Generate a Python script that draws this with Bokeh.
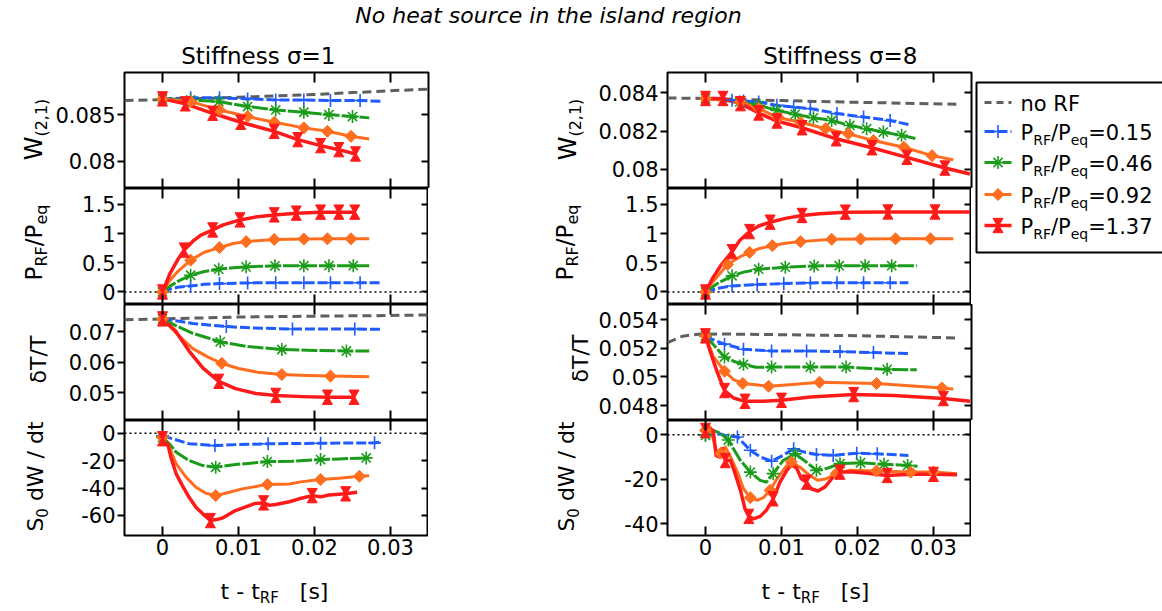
import math
from bokeh.plotting import figure
from bokeh.models import Range1d, LinearAxis, FixedTicker, Span, Label, CustomJSTickFormatter
from bokeh.layouts import row, column
from bokeh.embed import file_html
from bokeh.resources import INLINE

FONT = "DejaVu Sans"

# ----------------------------------------------------------------- data
XTICKS = [0, 0.01, 0.02, 0.03]
XTICK_LABELS = ["0", "0.01", "0.02", "0.03"]
LEGEND_VALUES = ["0.15", "0.46", "0.92", "1.37"]
COLUMN_TITLES = ["Stiffness \u03c3=1", "Stiffness \u03c3=8"]

# ---- Stiffness sigma = 1 ----
s1_w_nr_t = [-0.005, 0.0, 0.005, 0.01, 0.015, 0.02, 0.025, 0.03, 0.035]
s1_w_nr_v = [0.08650, 0.08660, 0.08672, 0.08685, 0.08700, 0.08715, 0.08735, 0.08755, 0.08772]
s1_w_b_t = [0.0, 0.0037, 0.0075, 0.0112, 0.0149, 0.0186, 0.0221, 0.026, 0.0287]
s1_w_b_v = [0.08668, 0.08679, 0.08679, 0.08668, 0.08657, 0.08657, 0.0865, 0.0865, 0.08643]
s1_w_b_m = [0, 1, 2, 3, 4, 5, 6, 7]
s1_w_g_t = [0.0, 0.0037, 0.0074, 0.0112, 0.0149, 0.0186, 0.0219, 0.025, 0.0272]
s1_w_g_v = [0.08668, 0.08657, 0.08639, 0.08586, 0.0855, 0.08525, 0.0850, 0.08479, 0.08465]
s1_w_g_m = [0, 1, 2, 3, 4, 5, 6, 7]
s1_w_o_t = [0.0, 0.0037, 0.0075, 0.0112, 0.0147, 0.0186, 0.0217, 0.0248, 0.0272]
s1_w_o_v = [0.08668, 0.08639, 0.0855, 0.08479, 0.08418, 0.08358, 0.08321, 0.08268, 0.0824]
s1_w_o_m = [0, 1, 2, 3, 4, 5, 6, 7]
s1_w_r_t = [0.0, 0.003, 0.0066, 0.0103, 0.0147, 0.0178, 0.0208, 0.0232, 0.0254]
s1_w_r_v = [0.08668, 0.08615, 0.08514, 0.08418, 0.08321, 0.08232, 0.08168, 0.08125, 0.08079]
s1_w_r_m = [0, 1, 2, 3, 4, 5, 6, 7, 8]

s1_p_b_t = [0.0, 0.001, 0.002, 0.0037, 0.0055, 0.0075, 0.0112, 0.0149, 0.0186, 0.0221, 0.026, 0.0287]
s1_p_b_v = [0.0, 0.05, 0.08, 0.103, 0.13, 0.143, 0.155, 0.157, 0.157, 0.157, 0.157, 0.157]
s1_p_b_m = [0, 3, 5, 6, 7, 8, 9, 10]
s1_p_g_t = [0.0, 0.001, 0.002, 0.0037, 0.0055, 0.0074, 0.0093, 0.011, 0.0148, 0.0186, 0.0219, 0.0251, 0.0272]
s1_p_g_v = [0.0, 0.1, 0.18, 0.286, 0.35, 0.39, 0.415, 0.43, 0.448, 0.45, 0.45, 0.45, 0.45]
s1_p_g_m = [0, 3, 5, 7, 8, 9, 10, 11]
s1_p_o_t = [0.0, 0.001, 0.002, 0.0037, 0.0055, 0.0075, 0.0093, 0.011, 0.0147, 0.0186, 0.0217, 0.0248, 0.0272]
s1_p_o_v = [0.0, 0.2, 0.35, 0.545, 0.68, 0.76, 0.83, 0.862, 0.90, 0.907, 0.91, 0.91, 0.91]
s1_p_o_m = [0, 3, 5, 7, 8, 9, 10, 11]
s1_p_r_t = [0.0, 0.001, 0.002, 0.00285, 0.004, 0.005, 0.0066, 0.008, 0.0102, 0.0125, 0.0147, 0.0176, 0.0208, 0.0232, 0.0253]
s1_p_r_v = [0.0, 0.32, 0.55, 0.717, 0.87, 0.97, 1.062, 1.15, 1.234, 1.29, 1.32, 1.35, 1.367, 1.367, 1.367]
s1_p_r_m = [0, 3, 6, 8, 10, 11, 12, 13, 14]

s1_dt_nr_t = [-0.005, 0.0, 0.005, 0.01, 0.02, 0.03, 0.035]
s1_dt_nr_v = [0.0739, 0.0742, 0.0745, 0.0748, 0.0751, 0.0753, 0.0755]
s1_dt_b_t = [0.0, 0.002, 0.004, 0.0084, 0.012, 0.0171, 0.0253, 0.0287]
s1_dt_b_v = [0.0742, 0.0735, 0.0727, 0.0717, 0.0712, 0.0709, 0.0709, 0.0708]
s1_dt_b_m = [0, 3, 5, 6]
s1_dt_g_t = [0.0, 0.002, 0.004, 0.0076, 0.011, 0.0157, 0.02, 0.0242, 0.0272]
s1_dt_g_v = [0.0742, 0.0717, 0.0695, 0.0667, 0.0652, 0.0642, 0.0639, 0.0637, 0.0637]
s1_dt_g_m = [0, 3, 5, 7]
s1_dt_o_t = [0.0, 0.002, 0.004, 0.006, 0.0078, 0.010, 0.0125, 0.0157, 0.019, 0.0221, 0.0272]
s1_dt_o_v = [0.0742, 0.069, 0.0645, 0.0617, 0.0597, 0.058, 0.0568, 0.056, 0.0557, 0.0555, 0.0553]
s1_dt_o_m = [0, 4, 7, 9]
s1_dt_r_t = [0.0, 0.0017, 0.0035, 0.0053, 0.0074, 0.0096, 0.0123, 0.0149, 0.0184, 0.0217, 0.0252]
s1_dt_r_v = [0.0742, 0.0703, 0.0637, 0.0582, 0.0538, 0.0514, 0.0498, 0.0492, 0.0488, 0.0486, 0.0486]
s1_dt_r_m = [0, 4, 7, 9, 10]

s1_dw_b_t = [0.0, 0.0013, 0.0035, 0.0069, 0.0096, 0.0139, 0.0208, 0.0279, 0.0286]
s1_dw_b_v = [-1.9, -4.0, -7.7, -9.0, -8.3, -7.7, -7.3, -7.0, -6.6]
s1_dw_b_m = [0, 3, 5, 6, 7]
s1_dw_g_t = [0.0, 0.0009, 0.0018, 0.0035, 0.0053, 0.007, 0.0096, 0.0138, 0.0171, 0.0208, 0.0232, 0.0268, 0.0272]
s1_dw_g_v = [-3.0, -7.7, -13.9, -19.9, -23.6, -24.8, -22.8, -20.7, -20.4, -19.2, -18.7, -18.0, -18.0]
s1_dw_g_m = [0, 5, 7, 9, 11]
s1_dw_o_t = [0.0, 0.0009, 0.0018, 0.0031, 0.0044, 0.0057, 0.007, 0.0088, 0.0105, 0.0138, 0.0167, 0.0184, 0.0208, 0.0232, 0.0259, 0.0272]
s1_dw_o_v = [-3.0, -10.2, -22.3, -32.0, -39.4, -43.8, -45.5, -43.0, -40.6, -37.4, -37.0, -35.3, -33.8, -32.8, -31.4, -31.0]
s1_dw_o_m = [0, 6, 9, 12, 14]
s1_dw_r_t = [0.0, 0.0007, 0.0011, 0.0018, 0.0026, 0.0035, 0.0044, 0.0053, 0.0063, 0.0071, 0.0079, 0.0096, 0.0114,
             0.0122, 0.0133, 0.0141, 0.0149, 0.0167, 0.0184, 0.0197, 0.0208, 0.0219, 0.0241, 0.0256]
s1_dw_r_v = [-4.0, -7.7, -17.5, -29.6, -38.0, -46.7, -54.0, -58.8, -63.7, -63.0, -61.8, -56.4, -52.8,
             -51.2, -50.8, -52.6, -52.0, -50.0, -47.2, -45.5, -46.4, -45.0, -44.2, -43.0]
s1_dw_r_m = [0, 8, 14, 19, 22]

# ---- Stiffness sigma = 8 ----
s8_w_nr_t = [-0.005, 0.0, 0.01, 0.02, 0.033]
s8_w_nr_v = [0.08374, 0.08371, 0.0836, 0.08351, 0.08341]
s8_w_b_t = [0.0, 0.0035, 0.005, 0.007, 0.0094, 0.0116, 0.0138, 0.0173, 0.0208, 0.0243, 0.0267]
s8_w_b_v = [0.08371, 0.08362, 0.08358, 0.08353, 0.08335, 0.08326, 0.08318, 0.08292, 0.08274, 0.08256, 0.08235]
s8_w_b_m = [0, 1, 2, 3, 4, 5, 6, 7, 8, 9]
s8_w_g_t = [0.0, 0.0045, 0.007, 0.0094, 0.0118, 0.0142, 0.0166, 0.019, 0.0212, 0.0234, 0.0258, 0.0278]
s8_w_g_v = [0.08371, 0.08353, 0.08335, 0.08309, 0.08288, 0.0827, 0.08256, 0.0823, 0.08213, 0.08195, 0.08178, 0.0816]
s8_w_g_m = [0, 1, 2, 3, 4, 5, 6, 7, 8, 9, 10]
s8_w_o_t = [0.0, 0.0046, 0.007, 0.0096, 0.0125, 0.0158, 0.0188, 0.0221, 0.0261, 0.0298, 0.0326]
s8_w_o_v = [0.08371, 0.08353, 0.08318, 0.0827, 0.08247, 0.08213, 0.08186, 0.08151, 0.08116, 0.08072, 0.0805]
s8_w_o_m = [0, 1, 2, 3, 4, 5, 6, 7, 8, 9]
s8_w_r_t = [0.0, 0.0023, 0.0046, 0.007, 0.0094, 0.0127, 0.0172, 0.0219, 0.0265, 0.0315, 0.0348]
s8_w_r_v = [0.08371, 0.08371, 0.08344, 0.08295, 0.08253, 0.08218, 0.0816, 0.08113, 0.08063, 0.08007, 0.07976]
s8_w_r_m = [0, 1, 2, 3, 4, 5, 6, 7, 8, 9]

s8_p_b_t = [0.0, 0.0015, 0.0035, 0.0068, 0.0103, 0.0138, 0.0173, 0.0208, 0.0243, 0.0267]
s8_p_b_v = [0.0, 0.06, 0.103, 0.126, 0.143, 0.155, 0.157, 0.157, 0.157, 0.157]
s8_p_b_m = [0, 2, 3, 4, 5, 6, 7, 8]
s8_p_g_t = [0.0, 0.0015, 0.0035, 0.005, 0.007, 0.0105, 0.0143, 0.0176, 0.021, 0.0245, 0.0278]
s8_p_g_v = [0.0, 0.14, 0.276, 0.34, 0.39, 0.424, 0.445, 0.45, 0.45, 0.45, 0.45]
s8_p_g_m = [0, 2, 4, 5, 6, 7, 8, 9]
s8_p_o_t = [0.0, 0.001, 0.0029, 0.0045, 0.0058, 0.007, 0.0088, 0.0105, 0.0125, 0.0166, 0.0204, 0.025, 0.0296, 0.0326]
s8_p_o_v = [0.0, 0.18, 0.47, 0.6, 0.678, 0.74, 0.793, 0.835, 0.862, 0.902, 0.907, 0.91, 0.91, 0.91]
s8_p_o_m = [0, 2, 4, 6, 8, 9, 10, 11, 12]
s8_p_r_t = [0.0, 0.001, 0.002, 0.0035, 0.0045, 0.0058, 0.007, 0.0085, 0.0105, 0.0127, 0.015, 0.0184, 0.024, 0.0302, 0.0348]
s8_p_r_v = [0.0, 0.25, 0.45, 0.69, 0.88, 1.034, 1.13, 1.195, 1.26, 1.31, 1.34, 1.367, 1.37, 1.37, 1.37]
s8_p_r_m = [0, 3, 5, 7, 9, 11, 12, 13]

s8_dt_nr_t = [-0.005, -0.003, -0.001, 0.002, 0.01, 0.02, 0.0335]
s8_dt_nr_v = [0.0524, 0.05285, 0.05298, 0.05300, 0.05295, 0.05288, 0.05272]
s8_dt_b_t = [0.0, 0.001, 0.0025, 0.005, 0.0087, 0.0133, 0.0177, 0.0221, 0.0267]
s8_dt_b_v = [0.05287, 0.0526, 0.05229, 0.05194, 0.05182, 0.05182, 0.05177, 0.0517, 0.05163]
s8_dt_b_m = [0, 2, 3, 4, 5, 6, 7]
s8_dt_g_t = [0.0, 0.0025, 0.0037, 0.005, 0.0066, 0.0087, 0.0138, 0.0185, 0.0239, 0.0278]
s8_dt_g_v = [0.05287, 0.05139, 0.0511, 0.05088, 0.05068, 0.05069, 0.05069, 0.05069, 0.05053, 0.0505]
s8_dt_g_m = [0, 1, 3, 5, 6, 7, 8]
s8_dt_o_t = [0.0, 0.001, 0.0025, 0.0037, 0.0049, 0.0066, 0.0083, 0.0115, 0.015, 0.0225, 0.0311, 0.0326]
s8_dt_o_v = [0.05287, 0.05146, 0.0504, 0.04982, 0.04955, 0.04946, 0.04935, 0.04947, 0.04963, 0.04954, 0.04923, 0.04916]
s8_dt_o_m = [0, 2, 4, 6, 8, 9, 10]
s8_dt_r_t = [0.0, 0.0006, 0.0015, 0.0025, 0.0037, 0.0052, 0.0076, 0.01, 0.0138, 0.0195, 0.0248, 0.0313, 0.0348]
s8_dt_r_v = [0.05287, 0.0518, 0.0504, 0.04905, 0.04853, 0.0483, 0.0483, 0.04837, 0.0486, 0.04877, 0.0487, 0.04849, 0.0483]
s8_dt_r_m = [0, 3, 5, 7, 9, 11]

s8_dw_b_t = [0.0, 0.001, 0.0026, 0.0042, 0.0059, 0.0072, 0.0087, 0.0102, 0.0116, 0.013, 0.0146, 0.0168, 0.0199, 0.0226, 0.0267]
s8_dw_b_v = [0.0, 1.3, -0.3, -1.0, -7.0, -10.0, -11.9, -9.3, -6.3, -7.8, -8.9, -9.3, -8.3, -8.6, -9.3]
s8_dw_b_m = [0, 3, 4, 6, 8, 10, 11, 12, 13]
s8_dw_g_t = [0.0, 0.001, 0.002, 0.003, 0.0046, 0.0059, 0.0072, 0.008, 0.0089, 0.0102, 0.0118, 0.013, 0.0146,
             0.0159, 0.0177, 0.0204, 0.0235, 0.0266, 0.0279]
s8_dw_g_v = [-0.3, 2.0, 0.6, -2.4, -11.6, -16.8, -20.5, -21.3, -17.5, -11.6, -8.6, -11.6, -16.0,
             -15.2, -13.0, -12.6, -13.3, -13.8, -14.2]
s8_dw_g_m = [0, 3, 5, 8, 10, 12, 14, 15, 16, 17]
s8_dw_o_t = [0.0, 0.0006, 0.0014, 0.002, 0.0026, 0.0033, 0.0042, 0.005, 0.0059, 0.0068, 0.0076, 0.0085, 0.0094,
             0.0107, 0.0113, 0.0124, 0.0137, 0.0148, 0.0159, 0.0172, 0.019, 0.0225, 0.027, 0.03, 0.0331]
s8_dw_o_v = [2.0, 3.5, -7.0, -8.3, -5.5, -10.0, -16.8, -24.3, -28.3, -29.5, -28.3, -25.0, -19.8,
             -13.8, -12.3, -14.5, -18.3, -20.5, -19.8, -17.5, -16.0, -16.3, -16.8, -16.8, -17.5]
s8_dw_o_m = [0, 3, 8, 11, 14, 19, 21, 22, 23]
s8_dw_r_t = [0.0, 0.0006, 0.001, 0.0014, 0.0018, 0.0022, 0.0026, 0.0033, 0.0039, 0.0046, 0.0052, 0.0057, 0.0063,
             0.0072, 0.008, 0.0089, 0.0098, 0.0107, 0.0113, 0.012, 0.0126, 0.0133, 0.0139, 0.0148, 0.0157,
             0.0168, 0.0177, 0.0195, 0.0213, 0.0239, 0.027, 0.03, 0.0331]
s8_dw_r_v = [1.9, 2.5, 2.0, -9.3, -10.0, -6.3, -11.6, -11.6, -17.5, -25.0, -33.3, -36.7, -37.8,
             -36.7, -34.0, -28.8, -21.3, -16.0, -13.5, -15.0, -19.8, -21.3, -24.3, -25.3, -23.5,
             -19.0, -16.8, -16.8, -17.3, -18.3, -17.8, -17.8, -18.0]
s8_dw_r_m = [0, 6, 11, 15, 21, 26, 29, 31]

# y-axis ranges / ticks per panel
s1_yr = [(0.0771, 0.0895), (-0.215, 1.772), (0.041, 0.0789), (-74.6, 9.3)]
s8_yr = [(0.079, 0.08507), (-0.215, 1.772), (0.04696, 0.05506), (-45.3, 6.4)]
s1_yticks = [[0.08, 0.085], [0, 0.5, 1, 1.5], [0.05, 0.06, 0.07], [-60, -40, -20, 0]]
s1_ylabels = [["0.08", "0.085"], ["0", "0.5", "1", "1.5"], ["0.05", "0.06", "0.07"], ["-60", "-40", "-20", "0"]]
s8_yticks = [[0.08, 0.082, 0.084], [0, 0.5, 1, 1.5], [0.048, 0.05, 0.052, 0.054], [-40, -20, 0]]
s8_ylabels = [["0.08", "0.082", "0.084"], ["0", "0.5", "1", "1.5"], ["0.048", "0.05", "0.052", "0.054"], ["-40", "-20", "0"]]

# ----------------------------------------------------------------- styles
STYLE = {
    "nr": dict(color="#5f5f5f", dash="9 5", width=3.0, marker=None),
    "b": dict(color="#1f5bff", dash="10 3", width=3.0, marker="cross"),
    "g": dict(color="#1a9c1a", dash="16 2", width=3.0, marker="asterisk"),
    "o": dict(color="#ff6d1f", dash="solid", width=3.0, marker="diamond"),
    "r": dict(color="#ff1a1a", dash="solid", width=3.5, marker="hourglass"),
}

W_EM = {' ': 0.318, '(': 0.390, ')': 0.390, ',': 0.318, '-': 0.361, '.': 0.318, '/': 0.337, '=': 0.838,
        '[': 0.390, ']': 0.390, 'F': 0.575, 'N': 0.748, 'P': 0.603, 'R': 0.695, 'S': 0.635, 'T': 0.611,
        'W': 0.989, 'a': 0.613, 'c': 0.550, 'd': 0.635, 'e': 0.615, 'f': 0.352, 'g': 0.635, 'h': 0.634,
        'i': 0.278, 'l': 0.278, 'n': 0.634, 'o': 0.612, 'q': 0.635, 'r': 0.411, 's': 0.521, 't': 0.392,
        'u': 0.634, '\u03b4': 0.612, '\u03c3': 0.634}
for _d in "0123456789":
    W_EM[_d] = 0.636
BASELINE_FIX = 0.28   # measured shift of Bokeh's alphabetic anchor, in em

# layout in page pixels (page origin = top-left of window)
TOTAL_W = 1160
TITLE_H = 28
TOP_B = 44
YLAB_X = [(0, 52), (428, 165)]
COL_X0 = [52, 593]
FRAME_X0 = [122, 663]
FRAME_W = 304
FRAME_H = [116, 116, 116, 115]
BOTTOM_B = 32
BODY_H = TOP_B + sum(FRAME_H) + BOTTOM_B
LEG_X0 = 969
XLAB_Y0 = TITLE_H + BODY_H
XLAB_H = 42
XR = (-0.005, 0.035)
TICK_FONT = "21px"
COL_TITLE_CENTER = [256, 836]


def tw(s, size):
    return sum(W_EM.get(ch, 0.6) for ch in s) * size


def seg_layout(segs, x, y, vertical=False, anchor="center"):
    widths = [tw(t, s) for t, s, _ in segs]
    total = sum(widths)
    pos = {"center": -total / 2, "left": 0.0, "right": -total}[anchor]
    out = []
    for (t, s, sh), w in zip(segs, widths):
        lead = len(t) - len(t.lstrip(" "))
        off = pos + lead * W_EM[" "] * s
        fix = BASELINE_FIX * s
        if vertical:
            px, py = x + sh - fix, y - off
        else:
            px, py = x + off, y + sh - fix
        out.append((t.strip(), s, px, py))
        pos += w
    return out


def canvas(ox, oy, w, h):
    c = figure(width=w, height=h, x_range=Range1d(ox, ox + w), y_range=Range1d(-(oy + h), -oy),
               min_border=0, title=None, toolbar_location=None, output_backend="svg",
               x_axis_location=None, y_axis_location=None)
    c.grid.visible = False
    c.outline_line_color = None
    c.background_fill_color = "white"
    c.border_fill_color = "white"
    return c


def canvas_text(c, segs, x, y, vertical=False, anchor="center", style="normal"):
    for txt, s, px, py in seg_layout(segs, x, y, vertical, anchor):
        c.add_layout(Label(x=px, y=-py, text=txt, angle=(math.pi / 2 if vertical else 0.0),
                           text_font=FONT, text_font_size=f"{s}px", text_font_style=style,
                           text_align="left", text_baseline="alphabetic", text_color="black"))


def label_formatter(ticks, labels):
    return CustomJSTickFormatter(args=dict(tv=list(ticks), tl=list(labels)), code="""
        for (let i = 0; i < tv.length; i++) { if (Math.abs(tv[i] - tick) < 1e-9) return tl[i]; }
        return "";""")


def blank_formatter():
    return CustomJSTickFormatter(code='return "";')


def style_axis(ax, tick_in, tick_out, show, standoff=2):
    ax.axis_line_color = None
    ax.major_tick_line_color = "black"
    ax.major_tick_line_width = 2
    ax.major_tick_in = tick_in
    ax.major_tick_out = tick_out
    ax.minor_tick_line_color = None
    ax.major_label_text_font = FONT
    ax.major_label_text_color = "black"
    if show:
        ax.major_label_text_font_size = TICK_FONT
        ax.major_label_standoff = standoff
    else:
        ax.major_label_text_font_size = "0px"
        ax.major_label_standoff = 0


def draw_markers(p, key, t, v, dv):
    st = STYLE[key]
    c = st["color"]
    m = st["marker"]
    if m == "cross":
        p.scatter(t, v, marker="cross", size=13, line_color=c, line_width=1.6)
    elif m == "asterisk":
        p.scatter(t, v, marker="asterisk", size=13, line_color=c, line_width=1.6)
    elif m == "diamond":
        p.scatter(t, v, marker="square", angle=math.pi / 4, size=8.5, fill_color=c, line_color=c)
    elif m == "hourglass":
        p.scatter(t, [a - dv for a in v], marker="triangle", size=10, fill_color=c, line_color=c, line_width=1)
        p.scatter(t, [a + dv for a in v], marker="inverted_triangle", size=10, fill_color=c, line_color=c,
                  line_width=1)


def make_panel(col, i, yr, yticks, ylabels, series, zero_line):
    fx0 = FRAME_X0[col]
    fh = FRAME_H[i]
    p = figure(frame_width=FRAME_W, frame_height=fh, x_range=Range1d(*XR), y_range=Range1d(*yr),
               min_border_left=fx0 - COL_X0[col], min_border_right=2,
               min_border_top=(TOP_B if i == 0 else 0), min_border_bottom=(BOTTOM_B if i == 3 else 0),
               title=(COLUMN_TITLES[col] if i == 0 else None), toolbar_location=None, output_backend="svg",
               x_axis_location=None, y_axis_location=None)
    if i == 0:
        text = COLUMN_TITLES[col]
        p.title.align = "left"
        p.title.offset = COL_TITLE_CENTER[col] - tw(text, 23) / 2 - fx0
        p.title.standoff = 7
        p.title.vertical_align = "bottom"
        p.title.text_font = FONT
        p.title.text_font_size = "23px"
        p.title.text_font_style = "normal"
        p.title.text_color = "black"
    p.grid.visible = False
    p.outline_line_color = "black"
    p.outline_line_width = 2
    p.outline_line_alpha = 1.0
    p.background_fill_color = "white"
    p.border_fill_color = "white"

    la = LinearAxis(ticker=FixedTicker(ticks=yticks), formatter=label_formatter(yticks, ylabels))
    style_axis(la, 0, 7, True)
    p.add_layout(la, "left")
    ra = LinearAxis(ticker=FixedTicker(ticks=yticks), formatter=blank_formatter())
    style_axis(ra, 7, 0, False)
    p.add_layout(ra, "right")
    ta = LinearAxis(ticker=FixedTicker(ticks=XTICKS), formatter=blank_formatter())
    style_axis(ta, 10, 0, False)
    p.add_layout(ta, "above")
    if i == 3:
        ba = LinearAxis(ticker=FixedTicker(ticks=XTICKS), formatter=label_formatter(XTICKS, XTICK_LABELS))
        style_axis(ba, 9, 0, True, standoff=3)
    else:
        ba = LinearAxis(ticker=FixedTicker(ticks=XTICKS), formatter=blank_formatter())
        style_axis(ba, 10, 0, False)
    p.add_layout(ba, "below")

    if zero_line:
        p.add_layout(Span(location=0, dimension="width", line_color="black", line_width=1.6,
                          line_dash="2 3", level="underlay"))

    dv = 4.3 * (yr[1] - yr[0]) / fh
    for key, t, v, mk in series:
        st = STYLE[key]
        p.line(t, v, line_color=st["color"], line_width=st["width"], line_dash=st["dash"],
               line_join="round")
    for key, t, v, mk in series:
        if mk is not None:
            draw_markers(p, key, [t[j] for j in mk], [v[j] for j in mk], dv)
    return p


# ----------------------------------------------------------------- panels
S1 = [
    [("nr", s1_w_nr_t, s1_w_nr_v, None), ("b", s1_w_b_t, s1_w_b_v, s1_w_b_m), ("g", s1_w_g_t, s1_w_g_v, s1_w_g_m),
     ("o", s1_w_o_t, s1_w_o_v, s1_w_o_m), ("r", s1_w_r_t, s1_w_r_v, s1_w_r_m)],
    [("b", s1_p_b_t, s1_p_b_v, s1_p_b_m), ("g", s1_p_g_t, s1_p_g_v, s1_p_g_m),
     ("o", s1_p_o_t, s1_p_o_v, s1_p_o_m), ("r", s1_p_r_t, s1_p_r_v, s1_p_r_m)],
    [("nr", s1_dt_nr_t, s1_dt_nr_v, None), ("b", s1_dt_b_t, s1_dt_b_v, s1_dt_b_m),
     ("g", s1_dt_g_t, s1_dt_g_v, s1_dt_g_m), ("o", s1_dt_o_t, s1_dt_o_v, s1_dt_o_m),
     ("r", s1_dt_r_t, s1_dt_r_v, s1_dt_r_m)],
    [("b", s1_dw_b_t, s1_dw_b_v, s1_dw_b_m), ("g", s1_dw_g_t, s1_dw_g_v, s1_dw_g_m),
     ("o", s1_dw_o_t, s1_dw_o_v, s1_dw_o_m), ("r", s1_dw_r_t, s1_dw_r_v, s1_dw_r_m)],
]
S8 = [
    [("nr", s8_w_nr_t, s8_w_nr_v, None), ("b", s8_w_b_t, s8_w_b_v, s8_w_b_m), ("g", s8_w_g_t, s8_w_g_v, s8_w_g_m),
     ("o", s8_w_o_t, s8_w_o_v, s8_w_o_m), ("r", s8_w_r_t, s8_w_r_v, s8_w_r_m)],
    [("b", s8_p_b_t, s8_p_b_v, s8_p_b_m), ("g", s8_p_g_t, s8_p_g_v, s8_p_g_m),
     ("o", s8_p_o_t, s8_p_o_v, s8_p_o_m), ("r", s8_p_r_t, s8_p_r_v, s8_p_r_m)],
    [("nr", s8_dt_nr_t, s8_dt_nr_v, None), ("b", s8_dt_b_t, s8_dt_b_v, s8_dt_b_m),
     ("g", s8_dt_g_t, s8_dt_g_v, s8_dt_g_m), ("o", s8_dt_o_t, s8_dt_o_v, s8_dt_o_m),
     ("r", s8_dt_r_t, s8_dt_r_v, s8_dt_r_m)],
    [("b", s8_dw_b_t, s8_dw_b_v, s8_dw_b_m), ("g", s8_dw_g_t, s8_dw_g_v, s8_dw_g_m),
     ("o", s8_dw_o_t, s8_dw_o_v, s8_dw_o_m), ("r", s8_dw_r_t, s8_dw_r_v, s8_dw_r_m)],
]

YLAB_SEGS = [
    [("W", 24, 0), ("(2,1)", 16, 5)],
    [("P", 23, 0), ("RF", 16, 5), ("/P", 23, 0), ("eq", 16, 5)],
    [("\u03b4T/T", 22, 0)],
    [("S", 22, 0), ("0", 15, 5), (" dW / dt", 22, 0)],
]
YLAB_POS = [
    [(40, 129), (40, 242), (44, 359), (41, 476)],
    [(572, 129), (569, 242), (584, 358), (570, 476)],
]
XLAB_SEGS = [("t - t", 22, 0), ("RF", 15, 5), ("   [s]", 22, 0)]

body = []
for col, (data, yrs, yts, yls) in enumerate([(S1, s1_yr, s1_yticks, s1_ylabels), (S8, s8_yr, s8_yticks, s8_ylabels)]):
    ox, w = YLAB_X[col]
    ylab = canvas(ox, TITLE_H, w, BODY_H)
    for i in range(4):
        lx, ly = YLAB_POS[col][i]
        canvas_text(ylab, YLAB_SEGS[i], lx, ly, vertical=True)
    figs = [make_panel(col, i, yrs[i], yts[i], yls[i], data[i], zero_line=(i in (1, 3))) for i in range(4)]
    body.append(ylab)
    body.append(column(*figs))

# ----------------------------------------------------------------- legend
leg = canvas(LEG_X0, TITLE_H, TOTAL_W - LEG_X0, BODY_H)
leg.quad(left=[972], right=[1200], top=[-82], bottom=[-252], fill_color=None, line_color="black", line_width=2)
LEG_ROWS = [102, 131, 162, 194, 225]
for k, key in enumerate(["nr", "b", "g", "o", "r"]):
    st = STYLE[key]
    yy = LEG_ROWS[k]
    dash = "7 5" if key == "nr" else st["dash"]
    leg.line([980, 1007], [-yy, -yy], line_color=st["color"], line_width=st["width"], line_dash=dash)
    if st["marker"]:
        draw_markers(leg, key, [993.5], [-yy], 4.3)
    if key == "nr":
        canvas_text(leg, [("no RF", 21, 0)], 1016, yy + 7, anchor="left")
    else:
        canvas_text(leg, [("P", 21, 0), ("RF", 14, 5), ("/P", 21, 0), ("eq", 14, 5),
                          ("=" + LEGEND_VALUES[k - 1], 21, 0)], 1016, yy + 7, anchor="left")
body.append(leg)

# ----------------------------------------------------------------- titles
title_c = canvas(0, 0, TOTAL_W, TITLE_H)
canvas_text(title_c, [("No heat source in the island region", 22, 0)], 548, 21.5, style="italic")

xlab_c = canvas(0, XLAB_Y0, TOTAL_W, XLAB_H)
canvas_text(xlab_c, XLAB_SEGS, FRAME_X0[0] + FRAME_W / 2, 597)
canvas_text(xlab_c, XLAB_SEGS, FRAME_X0[1] + FRAME_W / 2, 597)

layout = column(title_c, row(*body), xlab_c)
open("out.html", "w").write(file_html(layout, INLINE, title="No heat source in the island region"))
